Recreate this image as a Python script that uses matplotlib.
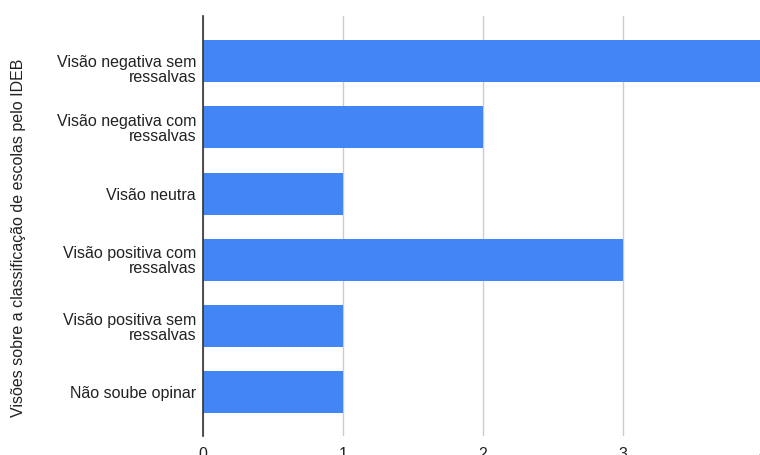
import matplotlib
matplotlib.use("Agg")
import matplotlib.pyplot as plt
from matplotlib.transforms import ScaledTranslation

categories = [
    "Visão negativa sem\nressalvas",
    "Visão negativa com\nressalvas",
    "Visão neutra",
    "Visão positiva com\nressalvas",
    "Visão positiva sem\nressalvas",
    "Não soube opinar",
]
counts = [4, 2, 1, 3, 1, 1]
x_ticks = [0, 1, 2, 3, 4]
y_title = "Visões sobre a classificação de escolas pelo IDEB"

plt.rcParams["font.family"] = ["Liberation Sans", "DejaVu Sans"]

fig = plt.figure(figsize=(7.6, 4.55), dpi=100)
ax = fig.add_axes([203 / 760, 1 - 436 / 455, 560 / 760, 420 / 455])

pos = list(range(len(categories)))
ax.barh(pos, counts, height=0.635, color="#4285F4", zorder=3)

ax.set_ylim(5.66, -0.68)
ax.set_xlim(0, 4)
ax.set_xticks(x_ticks)
ax.set_xticklabels([str(t) for t in x_ticks], fontsize=11.5, color="#222222")
ax.set_yticks(pos)
ax.set_yticklabels(categories, fontsize=11.5, color="#222222", linespacing=1.0)
ax.tick_params(axis="both", length=0)
ax.tick_params(axis="x", pad=8)
ax.tick_params(axis="y", pad=5)

# top label sits a little lower next to its bar
lbl = ax.get_yticklabels()[0]
lbl.set_transform(lbl.get_transform() + ScaledTranslation(0, -7 / 100, fig.dpi_scale_trans))

ax.grid(axis="x", color="#cccccc", lw=1, zorder=0)
for side in ("top", "right", "bottom"):
    ax.spines[side].set_visible(False)
ax.spines["left"].set_color("#333333")
ax.spines["left"].set_linewidth(1.2)
ax.spines["left"].set_zorder(4)

fig.text(19 / 760, 1 - 238 / 455, y_title, rotation=90, ha="center", va="center",
         fontsize=11.5, color="#222222")

fig.savefig("out.png", dpi=100)
